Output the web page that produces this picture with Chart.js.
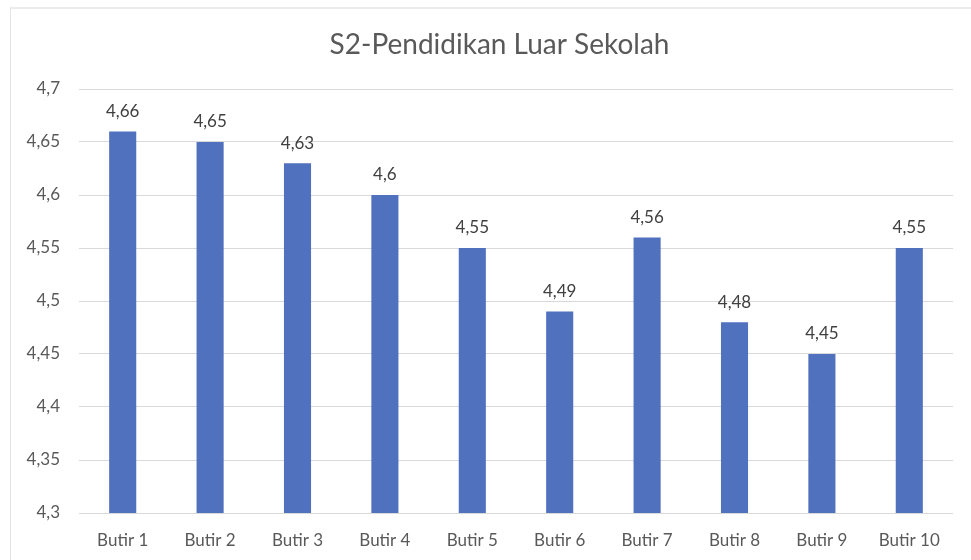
<!DOCTYPE html>
<html>
<head>
<meta charset="utf-8">
<script src="https://cdn.jsdelivr.net/npm/chart.js@4"></script>
<style>
  html, body { margin: 0; padding: 0; background: #fff; }
  #wrap { position: relative; width: 971px; height: 560px; overflow: hidden; }
  #frame { position: absolute; left: 10px; top: 7px; width: 1000px; height: 600px;
           border-left: 1px solid #e3e3e3; border-top: 2px solid #ececec; }
  canvas { position: absolute; left: 0; top: 0; }
</style>
</head>
<body>
<div id="wrap">
  <div id="frame"></div>
  <canvas id="chart" width="971" height="560"></canvas>
</div>
<script>
const categories = ["Butir 1", "Butir 2", "Butir 3", "Butir 4", "Butir 5", "Butir 6", "Butir 7", "Butir 8", "Butir 9", "Butir 10"];
const values = [4.66, 4.65, 4.63, 4.6, 4.55, 4.49, 4.56, 4.48, 4.45, 4.55];
const chartTitle = "S2-Pendidikan Luar Sekolah";

const FONT = "Lato, 'Open Sans', sans-serif";

function fmt(v) {
    return String(Number(v.toFixed(2))).replace(".", ",");
}

// value labels above bars + title centred on the frame (not the chart area)
const extras = {
    id: "extras",
    afterDatasetsDraw(chart) {
        const ctx = chart.ctx;
        const meta = chart.getDatasetMeta(0);
        ctx.save();
        ctx.textAlign = "center";
        ctx.textBaseline = "middle";
        ctx.font = "17px " + FONT;
        ctx.fillStyle = "#404040";
        meta.data.forEach((bar, i) => {
            ctx.fillText(fmt(values[i]), bar.x, bar.y - 20);
        });
        ctx.font = "28px " + FONT;
        ctx.fillStyle = "#595959";
        ctx.fillText(chartTitle, (10 + chart.width + 18) / 2, 45);
        ctx.restore();
    }
};

new Chart(document.getElementById("chart").getContext("2d"), {
    type: "bar",
    data: {
        labels: categories,
        datasets: [{
            data: values,
            backgroundColor: "#4f71be",
            categoryPercentage: 1,
            barPercentage: 0.31,
        }],
    },
    options: {
        responsive: false,
        animation: false,
        layout: { padding: { left: 0, right: 18, top: 89, bottom: 0 } },
        plugins: {
            legend: { display: false },
            tooltip: { enabled: false },
            title: { display: false },
        },
        scales: {
            x: {
                grid: { display: false },
                border: { display: false },
                ticks: { color: "#595959", padding: 9, font: { family: FONT, size: 17 } },
                afterFit(scale) { scale.height = 47; },
            },
            y: {
                min: 4.3,
                max: 4.7,
                grid: { color: "#d9d9d9", drawTicks: false, lineWidth: 1 },
                border: { display: false },
                ticks: {
                    stepSize: 0.05,
                    color: "#595959",
                    padding: 19,
                    font: { family: FONT, size: 17 },
                    callback: (v) => fmt(v),
                },
                afterFit(scale) { scale.width = 79; },
            },
        },
    },
    plugins: [extras],
});
</script>
</body>
</html>
